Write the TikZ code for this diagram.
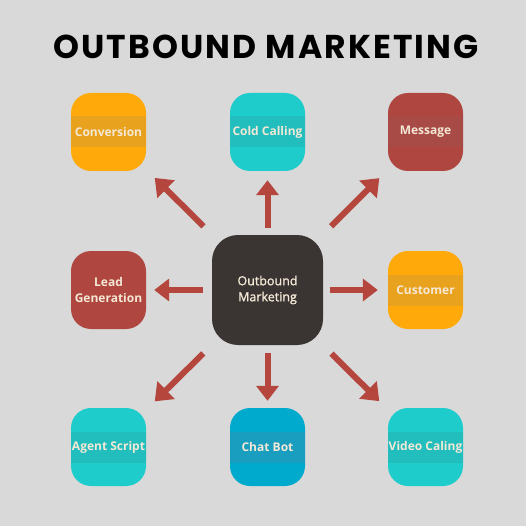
\documentclass[tikz,border=0pt]{standalone}
\usepackage{fontspec}
\setmainfont{Open Sans}
\newfontfamily\titlefont[LetterSpace=6.5]{Poppins}
\newfontfamily\semib[FakeBold=1.3]{Open Sans}
\usetikzlibrary{arrows.meta}
\definecolor{bgc}{HTML}{D9D9D9}
\definecolor{orng}{HTML}{FFAA0A}
\definecolor{orngband}{HTML}{E8A21E}
\definecolor{teal}{HTML}{1FCCCC}
\definecolor{tealband}{HTML}{22BDBD}
\definecolor{cblue}{HTML}{00AACC}
\definecolor{cblueband}{HTML}{1A9EC0}
\definecolor{rdc}{HTML}{AF463F}
\definecolor{rdcband}{HTML}{A84A45}
\definecolor{dark}{HTML}{3A3433}
\definecolor{txtc}{HTML}{F4E8D6}
\definecolor{arrc}{HTML}{B4463E}
\tikzset{
  box/.style={rounded corners=20pt, minimum width=75pt, minimum height=78pt,
    inner sep=0pt, align=center, text=txtc, font=\fontsize{12}{15.5}\selectfont\bfseries,
    fill=#1, path picture={\fill[#1band, sharp corners] ([yshift=-15.5pt]path picture bounding box.west) rectangle ([yshift=15.5pt]path picture bounding box.east);}},
  centerbox/.style={rounded corners=26pt, minimum width=111pt, minimum height=110pt,
    inner sep=0pt, align=center, fill=dark, text=txtc, font=\semib\fontsize{12.5}{16}\selectfont},
  arr/.style={draw=arrc, line width=6pt, -{Triangle[width=22pt,length=15pt]}},
  darr/.style={arr, -{Triangle[width=24pt,length=16pt]}, shorten <=12pt, shorten >=12pt}
}
\begin{document}
\begin{tikzpicture}[x=1pt,y=-1pt]
\fill[bgc] (0,0) rectangle (526,526);
\useasboundingbox (0,0) rectangle (526,526);
\node[font=\titlefont\fontsize{33}{36}\selectfont\bfseries, text=black] (title) at (266,47) {OUTBOUND MARKETING};
\node[centerbox] (c) at (267.5,290) {Outbound\\Marketing};
\node[box=orng] (conv) at (108.5,132) {Conversion};
\node[box=teal] (cold) at (267.5,132) {Cold Calling};
\node[box=rdc] (msg) at (425.5,132) {Message};
\node[box=rdc, path picture={}] (lead) at (108.5,290) {Lead\\Generation};
\node[box=orng] (cust) at (425.5,290) {Customer};
\node[box=teal] (agent) at (108.5,447) {Agent Script};
\node[box=cblue] (chat) at (267.5,447) {Chat Bot};
\node[box=teal] (video) at (425.5,447) {Video Caling};
\draw[arr, shorten <=7pt, shorten >=9pt] (c) -- (cold);
\draw[arr, shorten <=9pt, shorten >=8pt] (c) -- (lead);
\draw[arr, shorten <=7pt, shorten >=10pt] (c) -- (cust);
\draw[arr, shorten <=8pt, shorten >=7pt] (c) -- (chat);
\draw[darr] (c) -- (conv);
\draw[darr] (c) -- (msg);
\draw[darr] (c) -- (agent);
\draw[darr] (c) -- (video);
\end{tikzpicture}
\end{document}
